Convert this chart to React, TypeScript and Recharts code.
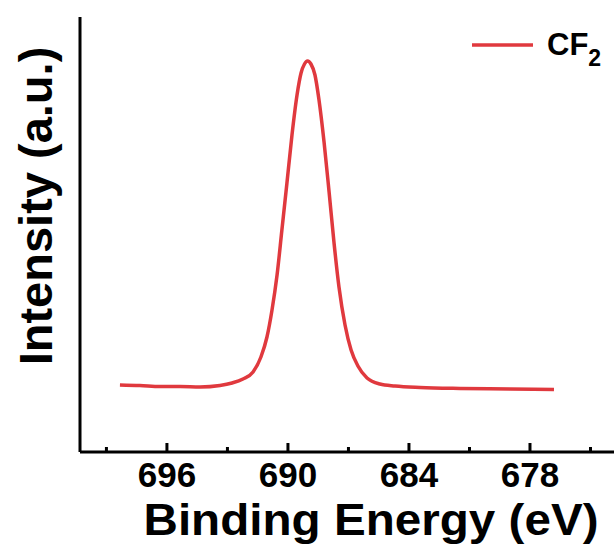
import React from 'react';
import { LineChart, Line, XAxis, YAxis, Legend } from 'recharts';

const energy = [698.33, 697.34, 696.34, 695.35, 694.36, 693.37, 692.77, 692.23, 691.73, 691.34, 691.04, 690.79, 690.54, 690.30, 690.05, 689.80, 689.55, 689.35, 689.18, 689.03, 688.86, 688.66, 688.46, 688.21, 687.96, 687.72, 687.47, 687.17, 686.87, 686.53, 686.08, 685.44, 684.69, 683.45, 681.47, 678.99, 676.81];
const intensity = [67, 66.5, 65.5, 65.5, 65, 66.5, 69, 73, 80, 95, 115, 142, 177, 222, 269, 317, 357, 379, 388, 391, 388, 377, 352, 310, 260, 210, 165, 127, 102, 86, 74, 68, 66, 64.5, 63.5, 63, 62.5];
const xTicks = [699, 696, 693, 690, 687, 684, 681, 678, 675];
const majorTicks = [696, 690, 684, 678];
const xDomain = [672, 700.31];
const yDomain = [0, 435];

const data = energy.map((e, i) => ({ energy: e, intensity: intensity[i] }));

const FONT = '"Liberation Sans", Arial, Helvetica, sans-serif';
const RED = '#e0393e';

function XTick(props: any) {
  const { x, y, payload } = props;
  const v = payload.value;
  const major = majorTicks.includes(v);
  return (
    <g>
      <line x1={x} x2={x} y1={y} y2={y - (major ? 9 : 5)} stroke="#000" strokeWidth={3} />
      {major && (
        <text x={x} y={y + 35} textAnchor="middle" fontSize={35} fontWeight="bold" fontFamily={FONT} fill="#000">
          {v}
        </text>
      )}
    </g>
  );
}

function YTitle() {
  return (
    <text
      x={52}
      y={206}
      transform="rotate(-90 52 206)"
      textAnchor="middle"
      fontSize={47}
      fontWeight="bold"
      fontFamily={FONT}
      fill="#000"
    >
      Intensity (a.u.)
    </text>
  );
}

function XTitle() {
  return (
    <text
      x={371}
      y={535}
      textAnchor="middle"
      fontSize={45}
      fontWeight="bold"
      fontFamily={FONT}
      fill="#000"
      textLength={455}
      lengthAdjust="spacingAndGlyphs"
    >
      Binding Energy (eV)
    </text>
  );
}

function LegendContent() {
  return (
    <div style={{ position: 'relative', width: 0, height: 0 }}>
      <svg width={614} height={90} style={{ position: 'absolute', left: 0, top: 0, overflow: 'visible' }}>
        <line x1={472} x2={533} y1={45} y2={45} stroke={RED} strokeWidth={3.5} />
        <text x={547} y={55} fontSize={31} fontWeight="bold" fontFamily={FONT} fill="#000">
          CF<tspan fontSize={23} dy={11}>2</tspan>
        </text>
      </svg>
    </div>
  );
}

export default function App() {
  return (
    <div style={{ position: 'fixed', left: 0, top: 0, width: 614, height: 547, overflow: 'hidden', background: '#fff' }}>
      <LineChart width={680} height={547} data={data} margin={{ top: 17, right: 29, bottom: 0, left: 0 }}>
        <XAxis
          dataKey="energy"
          type="number"
          domain={xDomain}
          reversed
          allowDataOverflow
          ticks={xTicks}
          interval={0}
          tickSize={0}
          tickMargin={0}
          tickLine={false}
          tick={<XTick />}
          height={95}
          axisLine={{ stroke: '#000', strokeWidth: 3 }}
          label={<XTitle />}
        />
        <XAxis
          xAxisId="top"
          orientation="top"
          dataKey="energy"
          type="number"
          domain={xDomain}
          reversed
          allowDataOverflow
          tick={false}
          tickLine={false}
          height={0}
          axisLine={{ stroke: '#000', strokeWidth: 3 }}
        />
        <YAxis
          type="number"
          domain={yDomain}
          allowDataOverflow
          tick={false}
          tickLine={false}
          width={80}
          axisLine={{ stroke: '#000', strokeWidth: 3 }}
          label={<YTitle />}
        />
        <Legend
          verticalAlign="top"
          align="left"
          wrapperStyle={{ position: 'absolute', top: 0, left: 0, width: 0, height: 0 }}
          content={<LegendContent />}
        />
        <Line
          type="monotone"
          dataKey="intensity"
          name="CF2"
          stroke={RED}
          strokeWidth={3.5}
          dot={false}
          isAnimationActive={false}
        />
      </LineChart>
    </div>
  );
}
